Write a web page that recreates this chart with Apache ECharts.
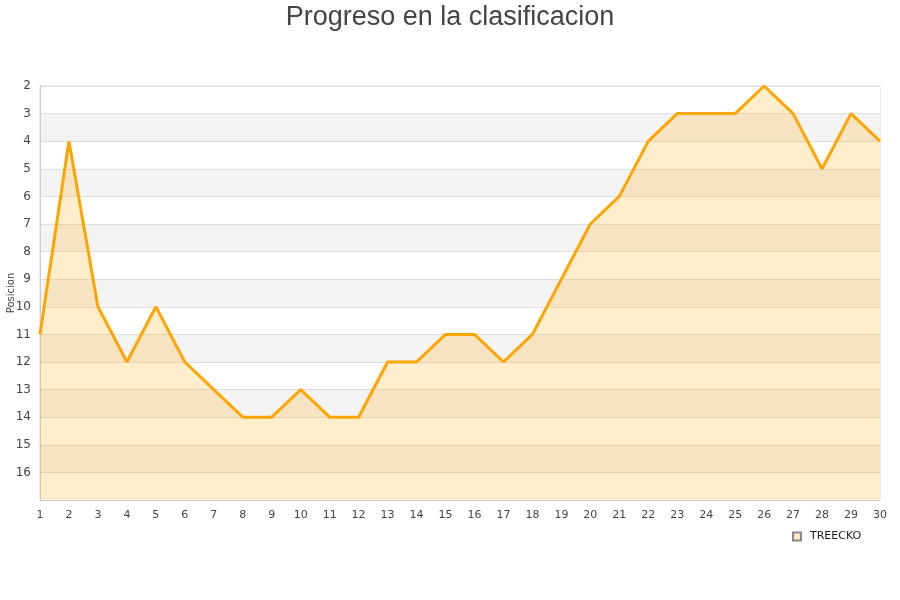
<!DOCTYPE html>
<html>
<head>
<meta charset="utf-8">
<script src="https://cdn.jsdelivr.net/npm/echarts@6/dist/echarts.min.js"></script>
<style>
  html, body { margin: 0; padding: 0; background: #fff; }
  #chartsDiv { width: 900px; height: 600px; }
</style>
</head>
<body>
<div id="chartsDiv"></div>
<script>
var jornadas = ['1', '2', '3', '4', '5', '6', '7', '8', '9', '10', '11', '12', '13', '14', '15',
  '16', '17', '18', '19', '20', '21', '22', '23', '24', '25', '26', '27', '28', '29', '30']
var posiciones = [11, 4, 10, 12, 10, 12, 13, 14, 14, 13, 14, 14, 12, 12, 11,
  11, 12, 11, 9, 7, 6, 4, 3, 3, 3, 2, 3, 5, 3, 4]
var seriesName = 'TREECKO'

var chart = echarts.init(document.getElementById('chartsDiv'), null, { renderer: 'canvas' })
var option = {
  animation: false,
  title: {
    text: 'Progreso en la clasificacion',
    left: 'center',
    top: -1,
    textStyle: {
      color: '#444',
      fontSize: 27,
      fontWeight: 'normal',
      fontFamily: 'Liberation Sans'
    }
  },
  legend: {
    left: 787,
    top: 526,
    itemWidth: 8,
    itemHeight: 8,
    itemGap: 10,
    icon: 'rect',
    textStyle: { color: '#222', fontSize: 11, fontFamily: 'DejaVu Sans', padding: [0, 0, 0, 4] },
    data: [seriesName]
  },
  grid: {
    left: 40,
    right: 20,
    top: 86,
    bottom: 100,
    outerBoundsMode: 'none',
    show: true,
    borderColor: '#ddd',
    borderWidth: 1
  },
  xAxis: {
    type: 'category',
    data: jornadas,
    boundaryGap: false,
    axisLine: { lineStyle: { color: '#ccc' } },
    axisTick: { show: false },
    axisLabel: { color: '#444', fontSize: 11, fontFamily: 'DejaVu Sans', margin: 10 },
    splitLine: { show: false }
  },
  yAxis: {
    type: 'value',
    inverse: true,
    min: 2,
    max: 17,
    interval: 1,
    name: 'Posicion',
    nameLocation: 'middle',
    nameGap: 24,
    nameMoveOverlap: false,
    nameTextStyle: { color: '#444', fontSize: 10, fontFamily: 'DejaVu Sans' },
    axisLine: { show: true, lineStyle: { color: '#ccc' } },
    axisTick: { show: false },
    axisLabel: {
      color: '#444',
      fontSize: 12,
      fontFamily: 'DejaVu Sans',
      margin: 9,
      formatter: function(value) {
        return value === 17 ? '' : value
      }
    },
    splitLine: { show: true, lineStyle: { color: '#ddd' } },
    splitArea: { show: true, areaStyle: { color: ['#ffffff', '#f3f3f3'] } }
  },
  series: [
    {
      name: seriesName,
      type: 'line',
      data: posiciones,
      symbol: 'none',
      itemStyle: { color: '#ffe9c4', borderColor: '#888', borderWidth: 1 },
      lineStyle: { color: '#ffa500', width: 3 },
      areaStyle: { color: 'rgba(255,165,0,0.2)', opacity: 1, origin: 'end' }
    }
  ]
}
chart.setOption(option)
</script>
</body>
</html>
